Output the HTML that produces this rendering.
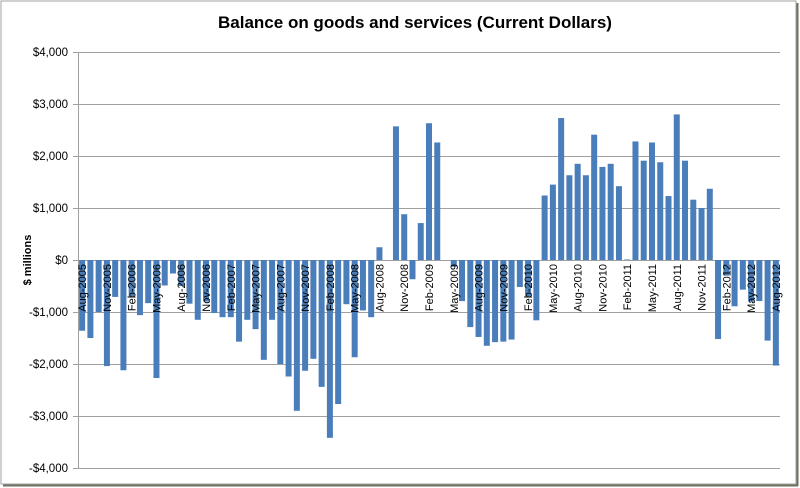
<!DOCTYPE html>
<html><head><meta charset="utf-8"><style>
html,body{margin:0;padding:0;background:#fff;}
svg{display:block;font-family:"Liberation Sans",sans-serif;}
</style></head><body>
<svg width="800" height="488" viewBox="0 0 800 488" xmlns="http://www.w3.org/2000/svg">
<rect x="0" y="0" width="800" height="488" fill="#fff"/>
<rect x="1" y="1" width="795" height="483" fill="#fff" stroke="#a0a0a0" stroke-width="1"/>
<line x1="797.5" y1="3" x2="797.5" y2="486" stroke="#707060" stroke-width="2"/>
<line x1="3" y1="485.5" x2="798" y2="485.5" stroke="#707060" stroke-width="2"/>
<text x="415" y="28" text-anchor="middle" font-size="17" font-weight="bold" fill="#000">Balance on goods and services (Current Dollars)</text>
<g stroke="#a0a0a0" stroke-width="1">
<line x1="73" y1="52.5" x2="780" y2="52.5"/>
<line x1="73" y1="104.5" x2="780" y2="104.5"/>
<line x1="73" y1="156.5" x2="780" y2="156.5"/>
<line x1="73" y1="208.5" x2="780" y2="208.5"/>
<line x1="73" y1="260.5" x2="780" y2="260.5"/>
<line x1="73" y1="312.5" x2="780" y2="312.5"/>
<line x1="73" y1="364.5" x2="780" y2="364.5"/>
<line x1="73" y1="416.5" x2="780" y2="416.5"/>
<line x1="73" y1="468.5" x2="780" y2="468.5"/>
<line x1="78.5" y1="52" x2="78.5" y2="468"/>
</g>
<g font-size="11.5" fill="#000" text-anchor="end">
<text x="68" y="56">$4,000</text>
<text x="68" y="108">$3,000</text>
<text x="68" y="160">$2,000</text>
<text x="68" y="212">$1,000</text>
<text x="68" y="264">$0</text>
<text x="68" y="316">-$1,000</text>
<text x="68" y="368">-$2,000</text>
<text x="68" y="420">-$3,000</text>
<text x="68" y="472">-$4,000</text>
</g>
<text transform="translate(31,260) rotate(-90)" text-anchor="middle" font-size="11" font-weight="bold">$ millions</text>
<g id="bars" fill="#4a7ebb"></g>
<g id="labels" font-size="11" fill="#000"></g>
<script>
var v=[-1360,-1500,-1000,-2040,-710,-2120,-700,-1060,-830,-2270,-490,-260,-500,-840,-1150,-800,-1020,-1100,-1100,-1570,-1150,-1330,-1920,-1150,-2000,-2240,-2900,-2130,-1900,-2440,-3420,-2770,-850,-1870,-970,-1100,245,0,2570,880,-370,710,2630,2260,0,-130,-790,-1290,-1480,-1650,-1580,-1570,-1530,-520,-700,-1160,1240,1450,2730,1630,1850,1630,2410,1790,1850,1420,10,2280,1910,2260,1880,1230,2800,1910,1160,1000,1370,-1520,-300,-890,-570,-800,-790,-1550,-2030];
var m=["Aug","Nov","Feb","May"];var ns="http://www.w3.org/2000/svg";
var b=document.getElementById("bars"),l=document.getElementById("labels");
var w=702/85;
for(var i=0;i<85;i++){var cx=78+(i+0.5)*w;var h=v[i]*0.052;var r=document.createElementNS(ns,"rect");
r.setAttribute("x",cx-3);r.setAttribute("width",6);r.setAttribute("y",h>0?260-h:260);r.setAttribute("height",Math.abs(h));b.appendChild(r);
if(i%3==0){var mi=(i/3)%4;var yr=2005+Math.floor((i+7)/12);var t=document.createElementNS(ns,"text");
t.setAttribute("transform","translate("+(cx+4)+",264) rotate(-90)");t.setAttribute("text-anchor","end");t.textContent=m[mi]+"-"+yr;l.appendChild(t);}}
</script>
</svg>
</body></html>
